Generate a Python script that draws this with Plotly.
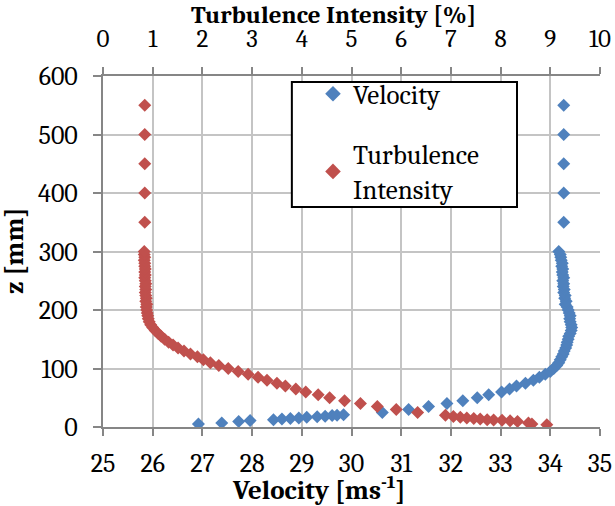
import plotly.graph_objects as go

# ---- data ----
z_velocity = [5, 7, 9.5, 11, 12.5, 13.5, 14.5, 15.5, 16.5, 17.5, 18.5, 19.5, 20, 21,
              25, 30, 35, 40, 45, 50, 55, 60, 65, 70, 75, 80, 85, 90, 95, 100,
              105, 110, 115, 120, 125, 130, 135, 140, 145, 150, 155, 160, 165, 170,
              175, 180, 185, 190, 195, 200, 205, 210, 215, 220, 225, 230, 235, 240,
              245, 250, 255, 260, 265, 270, 275, 280, 285, 290, 295, 300,
              350, 400, 450, 500, 550]
velocity = [26.92, 27.39, 27.73, 27.96, 28.43, 28.60, 28.77, 28.94, 29.10, 29.31, 29.47, 29.61, 29.71, 29.84,
            30.62, 31.15, 31.55, 31.92, 32.24, 32.53, 32.76, 33.02, 33.18, 33.32, 33.50, 33.66, 33.78, 33.90, 34.00, 34.07,
            34.13, 34.17, 34.20, 34.23, 34.26, 34.28, 34.31, 34.33, 34.34, 34.36, 34.37, 34.40, 34.42, 34.43,
            34.42, 34.40, 34.39, 34.40, 34.38, 34.36, 34.34, 34.30, 34.32, 34.29, 34.30, 34.27, 34.28, 34.26,
            34.27, 34.25, 34.27, 34.25, 34.24, 34.25, 34.23, 34.24, 34.22, 34.21, 34.20, 34.17,
            34.27, 34.27, 34.27, 34.27, 34.27]

z_turb = [4, 5, 7, 9.5, 10.5, 11.5, 12, 12.5, 13.5, 14.5, 15.5, 16.5, 18, 20,
          25, 30, 35, 40, 45, 50, 55, 60, 65, 70, 75, 80, 85, 90, 95, 100,
          105, 110, 115, 120, 125, 130, 135, 140, 145, 150, 155, 160, 165, 170,
          175, 180, 185, 190, 195, 200, 205, 210, 215, 220, 225, 230, 235, 240,
          245, 250, 255, 260, 265, 270, 275, 280, 285, 290, 295, 300,
          350, 400, 450, 500, 550]
turbulence = [8.93, 8.63, 8.56, 8.34, 8.19, 8.03, 7.86, 7.73, 7.59, 7.46, 7.32, 7.19, 7.05, 6.89,
              6.33, 5.90, 5.52, 5.18, 4.86, 4.56, 4.33, 4.08, 3.88, 3.67, 3.50, 3.30, 3.12, 2.92, 2.72, 2.52,
              2.33, 2.16, 2.02, 1.90, 1.76, 1.63, 1.51, 1.41, 1.32, 1.24, 1.17, 1.11, 1.05, 1.00,
              0.96, 0.93, 0.91, 0.90, 0.89, 0.88, 0.87, 0.88, 0.86, 0.87, 0.86, 0.85, 0.86, 0.85,
              0.86, 0.85, 0.84, 0.85, 0.84, 0.85, 0.84, 0.84, 0.83, 0.84, 0.83, 0.83,
              0.84, 0.84, 0.84, 0.84, 0.84]

velocity_ticks = [25, 26, 27, 28, 29, 30, 31, 32, 33, 34, 35]
turb_ticks = [0, 1, 2, 3, 4, 5, 6, 7, 8, 9, 10]
z_ticks = [0, 100, 200, 300, 400, 500, 600]

x_title = "Velocity [ms<sup>-1</sup>]"
x2_title = "Turbulence Intensity [%]"
y_title = "z [mm]"

FONT = "Cambria, 'Liberation Serif', 'DejaVu Serif', serif"
BLUE = "#4F81BD"
RED = "#C0504D"
GRID = "#C4C4C4"
AXIS = "#868686"

fig = go.Figure()
fig.add_trace(go.Scatter(
    x=velocity, y=z_velocity, mode="markers", name="Velocity",
    marker=dict(symbol="diamond", size=10, color=BLUE),
    xaxis="x", yaxis="y", legendgroup="v"))
fig.add_trace(go.Scatter(
    x=turbulence, y=z_turb, mode="markers", name="Turbulence<br>Intensity",
    marker=dict(symbol="diamond", size=10, color=RED),
    xaxis="x2", yaxis="y", legendgroup="t"))

axis_common = dict(showline=True, linecolor=AXIS, linewidth=2,
                   ticks="outside", tickcolor=AXIS, tickwidth=2,
                   zeroline=False, automargin=False)

fig.update_layout(
    width=615, height=506,
    margin=dict(l=103, r=15, t=76, b=79),
    paper_bgcolor="white", plot_bgcolor="white",
    font=dict(family=FONT, size=26, color="black"),
    xaxis=dict(
        range=[25, 35], tickvals=velocity_ticks, ticktext=[str(v) for v in velocity_ticks],
        showgrid=True, gridcolor=GRID, gridwidth=2, ticklen=7, ticklabelstandoff=5,
        tickfont=dict(size=26), **axis_common),
    xaxis2=dict(
        range=[0, 10], tickvals=turb_ticks, ticktext=[str(v) for v in turb_ticks],
        overlaying="x", side="top", anchor="y",
        showgrid=False, ticklen=7, ticklabelstandoff=10,
        tickfont=dict(size=25), **axis_common),
    yaxis=dict(
        range=[0, 600], tickvals=z_ticks, ticktext=[str(v) for v in z_ticks],
        showgrid=True, gridcolor=GRID, gridwidth=2, ticklen=8, ticklabelstandoff=10,
        tickfont=dict(size=26), **axis_common),
    legend=dict(
        x=0.4225, y=1.018, xanchor="left", yanchor="top",
        bgcolor="rgba(0,0,0,0)", borderwidth=0,
        font=dict(size=27), tracegroupgap=22, traceorder="grouped",
        itemsizing="constant",
    ),
    shapes=[dict(type="rect", xref="paper", yref="paper",
                 x0=0.380, x1=0.833, y0=0.627, y1=0.983,
                 line=dict(color="black", width=2), fillcolor="white", layer="above")],
    annotations=[
        dict(text="<b>" + x2_title + "</b>", xref="paper", yref="paper",
             x=0.463, y=1.175, xanchor="center", yanchor="middle",
             showarrow=False, font=dict(size=25)),
        dict(text="<b>" + x_title + "</b>", xref="paper", yref="paper",
             x=0.433, y=-0.175, xanchor="center", yanchor="middle",
             showarrow=False, font=dict(size=27)),
        dict(text="<b>" + y_title + "</b>", xref="paper", yref="paper",
             x=-0.178, y=0.5, xanchor="center", yanchor="middle", textangle=-90,
             showarrow=False, font=dict(size=27)),
    ],
)

fig.write_html("out.html")
